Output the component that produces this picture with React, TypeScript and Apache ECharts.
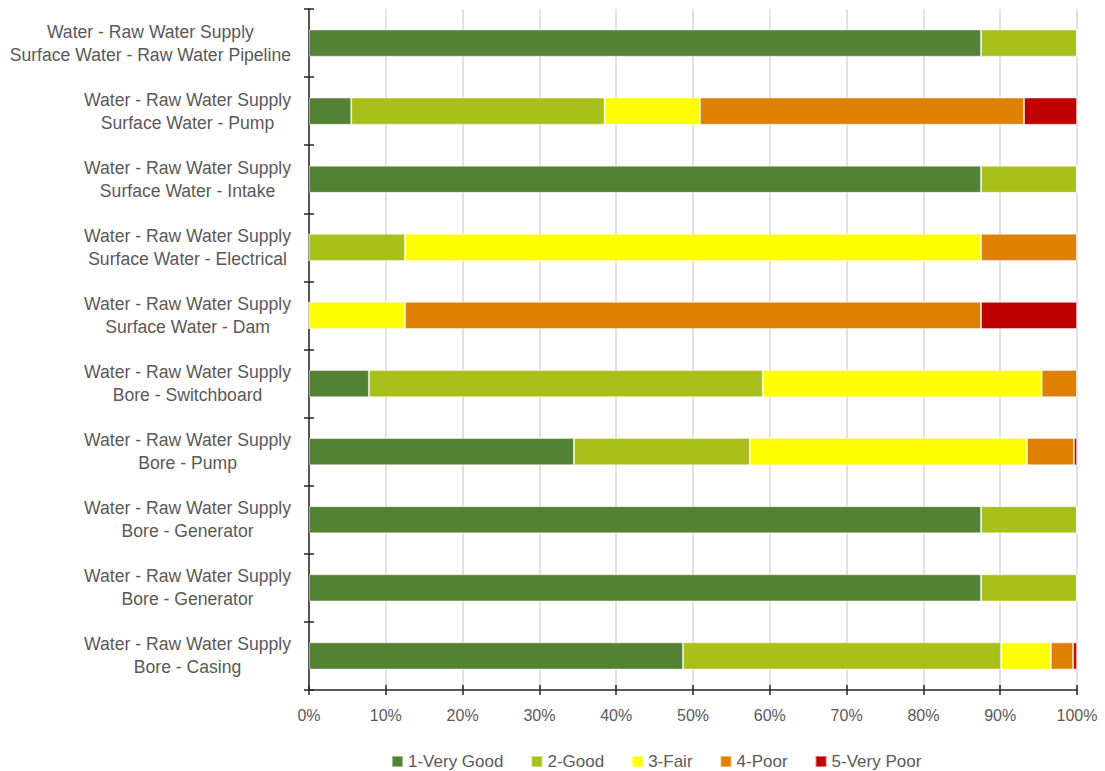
import React, { useEffect, useRef } from "react";
import * as echarts from "echarts";

// Asset groups, listed top to bottom
const groupLines: string[] = [
  "Water - Raw Water Supply",
  "Water - Raw Water Supply",
  "Water - Raw Water Supply",
  "Water - Raw Water Supply",
  "Water - Raw Water Supply",
  "Water - Raw Water Supply",
  "Water - Raw Water Supply",
  "Water - Raw Water Supply",
  "Water - Raw Water Supply",
  "Water - Raw Water Supply",
];
const assetLines: string[] = [
  "Surface Water - Raw Water Pipeline",
  "Surface Water - Pump",
  "Surface Water - Intake",
  "Surface Water - Electrical",
  "Surface Water - Dam",
  "Bore - Switchboard",
  "Bore - Pump",
  "Bore - Generator",
  "Bore - Generator",
  "Bore - Casing",
];

// Condition shares (%) per asset, same order as above
const veryGood: number[] = [87.5, 5.5, 87.5, 0, 0, 7.8, 34.5, 87.5, 87.5, 48.7];
const good: number[] = [12.5, 33.0, 12.5, 12.5, 0, 51.3, 22.9, 12.5, 12.5, 41.4];
const fair: number[] = [0, 12.4, 0, 75.0, 12.5, 36.3, 36.1, 0, 0, 6.5];
const poor: number[] = [0, 42.2, 0, 12.5, 75.0, 4.6, 6.1, 0, 0, 2.9];
const veryPoor: number[] = [0, 6.9, 0, 0, 12.5, 0, 0.4, 0, 0, 0.5];

const seriesNames: string[] = ["1-Very Good", "2-Good", "3-Fair", "4-Poor", "5-Very Poor"];
const seriesColors: string[] = ["#548235", "#A9C01B", "#FFFF00", "#E08000", "#C00000"];

const xTicks: number[] = [0, 10, 20, 30, 40, 50, 60, 70, 80, 90, 100];

const FONT = "'Liberation Sans', Arial, sans-serif";
const TEXT = "#595959";
const AXIS = "#262626";

export default function App() {
  const ref = useRef<HTMLDivElement>(null);

  useEffect(() => {
    if (!ref.current) return;
    const chart = echarts.init(ref.current, undefined, { renderer: "svg" });
    const keys = assetLines.map((_, i) => String(i));
    const values = [veryGood, good, fair, poor, veryPoor];

    const valueAxisBase = {
      type: "value" as const,
      min: xTicks[0],
      max: xTicks[xTicks.length - 1],
      interval: xTicks[1] - xTicks[0],
      gridIndex: 0,
    };
    const catAxisBase = {
      type: "category" as const,
      data: keys,
      inverse: true,
      gridIndex: 0,
    };

    chart.setOption({
      animation: false,
      backgroundColor: "#ffffff",
      textStyle: { fontFamily: FONT },
      grid: { left: 309, right: 28, top: 9, bottom: 81, containLabel: false },
      xAxis: [
        {
          ...valueAxisBase,
          position: "bottom",
          axisLine: { show: true, lineStyle: { color: AXIS, width: 1.5 } },
          axisTick: { show: true, length: 5, lineStyle: { color: AXIS, width: 1.5 } },
          axisLabel: {
            formatter: "{value}%",
            color: TEXT,
            fontSize: 16,
            fontFamily: FONT,
            margin: 17,
          },
          splitLine: { show: true, lineStyle: { color: "#D9D9D9", width: 1.5 } },
        },
        {
          ...valueAxisBase,
          position: "bottom",
          axisLine: { show: false },
          axisTick: { show: true, inside: true, length: 5, lineStyle: { color: AXIS, width: 1.5 } },
          axisLabel: { show: false },
          splitLine: { show: false },
        },
      ],
      yAxis: [
        {
          ...catAxisBase,
          position: "left",
          axisLine: { show: true, lineStyle: { color: AXIS, width: 1.5 } },
          axisTick: { show: true, length: 5, lineStyle: { color: AXIS, width: 1.5 } },
          axisLabel: {
            margin: 18,
            align: "right",
            formatter: (_v: string, i: number) =>
              `{c|${groupLines[i]}}\n{c|${assetLines[i]}}`,
            rich: {
              c: {
                align: "center",
                color: TEXT,
                fontSize: 17.6,
                lineHeight: 23,
                fontFamily: FONT,
              },
            },
          },
          splitLine: { show: false },
        },
        {
          ...catAxisBase,
          position: "left",
          axisLine: { show: false },
          axisTick: { show: true, inside: true, length: 5, lineStyle: { color: AXIS, width: 1.5 } },
          axisLabel: { show: false },
          splitLine: { show: false },
        },
      ],
      legend: {
        top: 748,
        left: 386,
        itemWidth: 11,
        itemHeight: 11,
        itemGap: 27,
        icon: "rect",
        textStyle: { color: TEXT, fontSize: 17, fontFamily: FONT },
        data: seriesNames,
      },
      series: seriesNames.map((name, s) => ({
        name,
        type: "bar",
        stack: "total",
        xAxisIndex: 0,
        yAxisIndex: 0,
        barCategoryGap: "60%",
        itemStyle: {
          color: seriesColors[s],
          borderColor: "rgba(255,255,255,0.45)",
          borderWidth: 1,
        },
        data: values[s],
      })),
    });

    return () => chart.dispose();
  }, []);

  return (
    <div
      ref={ref}
      style={{ position: "fixed", left: 0, top: 0, width: 1105, height: 771, background: "#fff" }}
    />
  );
}
